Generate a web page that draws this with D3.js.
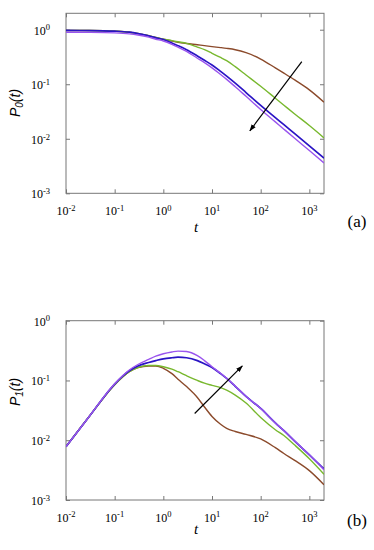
<!DOCTYPE html>
<meta charset="utf-8">
<script src="https://d3js.org/d3.v7.min.js"></script>
<style>
  body { margin: 0; background: #fff; }
  .serif { font-family: 'Liberation Serif', 'Times New Roman', serif; }
  .sans { font-family: 'Liberation Sans', Arial, sans-serif; }
</style>
<div id="my_dataviz"></div>
<script>

// time grid shared by every curve
var tGrid = [0.01, 0.03, 0.1, 0.2, 0.3, 0.5, 0.7, 1, 1.5, 2, 3, 5, 7, 10, 15, 20, 30, 50, 100, 200, 300, 500, 1000, 2000];

// panel (a): P0(t)
var p0Brown  = [0.97, 0.965, 0.94, 0.9, 0.85, 0.78, 0.72, 0.67, 0.62, 0.59, 0.56, 0.53, 0.51, 0.49, 0.47, 0.455, 0.43, 0.38, 0.29, 0.2, 0.16, 0.12, 0.079, 0.047];
var p0Green  = [0.97, 0.965, 0.94, 0.9, 0.85, 0.78, 0.72, 0.67, 0.63, 0.6, 0.56, 0.48, 0.43, 0.37, 0.31, 0.27, 0.21, 0.148, 0.092, 0.0555, 0.0413, 0.0285, 0.0175, 0.0104];
var p0Blue   = [0.97, 0.965, 0.94, 0.9, 0.85, 0.77, 0.71, 0.66, 0.57, 0.51, 0.43, 0.33, 0.275, 0.225, 0.172, 0.141, 0.105, 0.0705, 0.041, 0.0245, 0.0181, 0.0124, 0.0074, 0.0044];
var p0Purple = [0.9, 0.895, 0.875, 0.84, 0.8, 0.73, 0.67, 0.62, 0.54, 0.48, 0.4, 0.3, 0.25, 0.2, 0.151, 0.123, 0.09, 0.06, 0.0345, 0.0204, 0.015, 0.0102, 0.0061, 0.0036];

// panel (b): P1(t)
var p1Brown  = [0.0078, 0.025, 0.085, 0.14, 0.165, 0.175, 0.175, 0.16, 0.13, 0.105, 0.079, 0.052, 0.036, 0.025, 0.0185, 0.0158, 0.014, 0.0125, 0.0105, 0.0075, 0.006, 0.0046, 0.0031, 0.0018];
var p1Green  = [0.0078, 0.025, 0.085, 0.14, 0.165, 0.178, 0.178, 0.17, 0.155, 0.14, 0.12, 0.1, 0.09, 0.083, 0.076, 0.069, 0.057, 0.042, 0.024, 0.015, 0.012, 0.0083, 0.0049, 0.0027];
var p1Blue   = [0.0078, 0.025, 0.087, 0.145, 0.175, 0.2, 0.215, 0.23, 0.24, 0.245, 0.24, 0.215, 0.19, 0.165, 0.13, 0.108, 0.08, 0.054, 0.034, 0.0195, 0.0145, 0.0097, 0.0057, 0.0033];
var p1Purple = [0.0078, 0.025, 0.088, 0.15, 0.185, 0.225, 0.255, 0.28, 0.3, 0.31, 0.305, 0.26, 0.215, 0.17, 0.132, 0.109, 0.081, 0.054, 0.034, 0.0195, 0.0145, 0.0097, 0.0057, 0.0032];

// tick values and arrow end points (tail -> head) in data units
var xTicks = [0.01, 0.1, 1, 10, 100, 1000];
var yTicksA = [0.001, 0.01, 0.1, 1];
var yTicksB = [0.001, 0.01, 0.1, 1];
var arrowA = [[700, 0.26], [60, 0.014]];
var arrowB = [[4.4, 0.028], [42, 0.175]];

var colors = ["#8b4a2b", "#78b82e", "#2a14c4", "#9a55ee"];

var svg = d3.select("#my_dataviz")
  .append("svg")
    .attr("width", 374)
    .attr("height", 550);

var defs = svg.append("defs");
defs.append("marker")
    .attr("id", "head")
    .attr("viewBox", "0 0 10 10")
    .attr("refX", 9).attr("refY", 5)
    .attr("markerWidth", 7).attr("markerHeight", 7)
    .attr("markerUnits", "userSpaceOnUse")
    .attr("orient", "auto")
  .append("path")
    .attr("d", "M0,1.5 L10,5 L0,8.5 Z")
    .attr("fill", "#000");

// "10" with the exponent raised
function expLabel(sel, v) {
  var e = Math.round(Math.log10(v));
  sel.text("10");
  sel.append("tspan")
    .attr("dy", "-0.5em")
    .style("font-size", "8.5px")
    .text(e);
}

function drawPanel(opts) {
  var x = d3.scaleLog().domain([0.01, 2000]).range([66, 324]);
  var y = d3.scaleLog().domain(opts.yDomain).range([opts.bottom, opts.top]);
  var g = svg.append("g");

  var clipId = "clip" + opts.tag;
  defs.append("clipPath").attr("id", clipId)
    .append("rect")
      .attr("x", 66).attr("y", opts.top)
      .attr("width", 258).attr("height", opts.bottom - opts.top);

  // axes, ticks pointing inward on all four sides
  var axisColor = "#777";
  g.append("g").attr("transform", "translate(0," + opts.bottom + ")")
    .call(d3.axisTop(x).tickValues(xTicks).tickSize(4).tickFormat(""));
  g.append("g").attr("transform", "translate(0," + opts.top + ")")
    .call(d3.axisBottom(x).tickValues(xTicks).tickSize(4).tickFormat(""));
  g.append("g").attr("transform", "translate(66,0)")
    .call(d3.axisRight(y).tickValues(opts.yTicks).tickSize(4).tickFormat(""));
  g.append("g").attr("transform", "translate(324,0)")
    .call(d3.axisLeft(y).tickValues(opts.yTicks).tickSize(4).tickFormat(""));
  g.selectAll(".domain").remove();
  g.selectAll(".tick line").attr("stroke", axisColor);
  g.append("rect")
    .attr("x", 66).attr("y", opts.top)
    .attr("width", 258).attr("height", opts.bottom - opts.top)
    .attr("fill", "none").attr("stroke", axisColor).attr("stroke-width", 1);

  // tick labels
  g.selectAll(".xlab").data(xTicks).enter()
    .append("text")
      .attr("class", "serif")
      .attr("x", function(d) { return x(d); })
      .attr("y", opts.bottom + 21.5)
      .attr("text-anchor", "middle")
      .style("font-size", "12px")
      .each(function(d) { expLabel(d3.select(this), d); });
  g.selectAll(".ylab").data(opts.yTicks).enter()
    .append("text")
      .attr("class", "serif")
      .attr("x", 50)
      .attr("y", function(d) { return y(d) + 5; })
      .attr("text-anchor", "end")
      .style("font-size", "12px")
      .each(function(d) { expLabel(d3.select(this), d); });

  // axis titles
  g.append("text")
    .attr("class", "serif")
    .attr("x", 196).attr("y", opts.tY)
    .attr("text-anchor", "middle")
    .style("font-style", "italic")
    .style("font-size", "15px")
    .text("t");
  var yl = g.append("text")
    .attr("class", "sans")
    .attr("transform", "translate(20," + opts.labY + ") rotate(-90)")
    .attr("text-anchor", "middle")
    .style("font-style", "italic")
    .style("font-size", "14px");
  yl.append("tspan").text("P");
  yl.append("tspan").attr("dy", 3).style("font-size", "10px").text(opts.sub);
  yl.append("tspan").attr("dy", -3).text("(t)");

  g.append("text")
    .attr("class", "serif")
    .attr("x", 357).attr("y", opts.tagY)
    .attr("text-anchor", "middle")
    .style("font-size", "17px")
    .text("(" + opts.tag + ")");

  // curves
  var line = d3.line()
    .x(function(d) { return x(d[0]); })
    .y(function(d) { return y(d[1]); })
    .curve(d3.curveMonotoneX);
  var cg = g.append("g").attr("clip-path", "url(#" + clipId + ")");
  opts.series.forEach(function(s, i) {
    cg.append("path")
      .datum(tGrid.map(function(t, j) { return [t, s[j]]; }))
      .attr("d", line)
      .attr("fill", "none")
      .attr("stroke", colors[i])
      .attr("stroke-width", i == 2 ? 1.7 : 1.4);
  });

  // arrow
  g.append("line")
    .attr("x1", x(opts.arrow[0][0])).attr("y1", y(opts.arrow[0][1]))
    .attr("x2", x(opts.arrow[1][0])).attr("y2", y(opts.arrow[1][1]))
    .attr("stroke", "#000")
    .attr("stroke-width", 1.2)
    .attr("marker-end", "url(#head)");
}

drawPanel({
  tag: "a", sub: "0",
  yDomain: [0.001, 2], yTicks: yTicksA,
  top: 13.3, bottom: 193.3,
  tY: 232, labY: 103, tagY: 227,
  series: [p0Brown, p0Green, p0Blue, p0Purple],
  arrow: arrowA
});

drawPanel({
  tag: "b", sub: "1",
  yDomain: [0.001, 1], yTicks: yTicksB,
  top: 320.7, bottom: 500,
  tY: 534, labY: 392, tagY: 526,
  series: [p1Brown, p1Green, p1Blue, p1Purple],
  arrow: arrowB
});

</script>
